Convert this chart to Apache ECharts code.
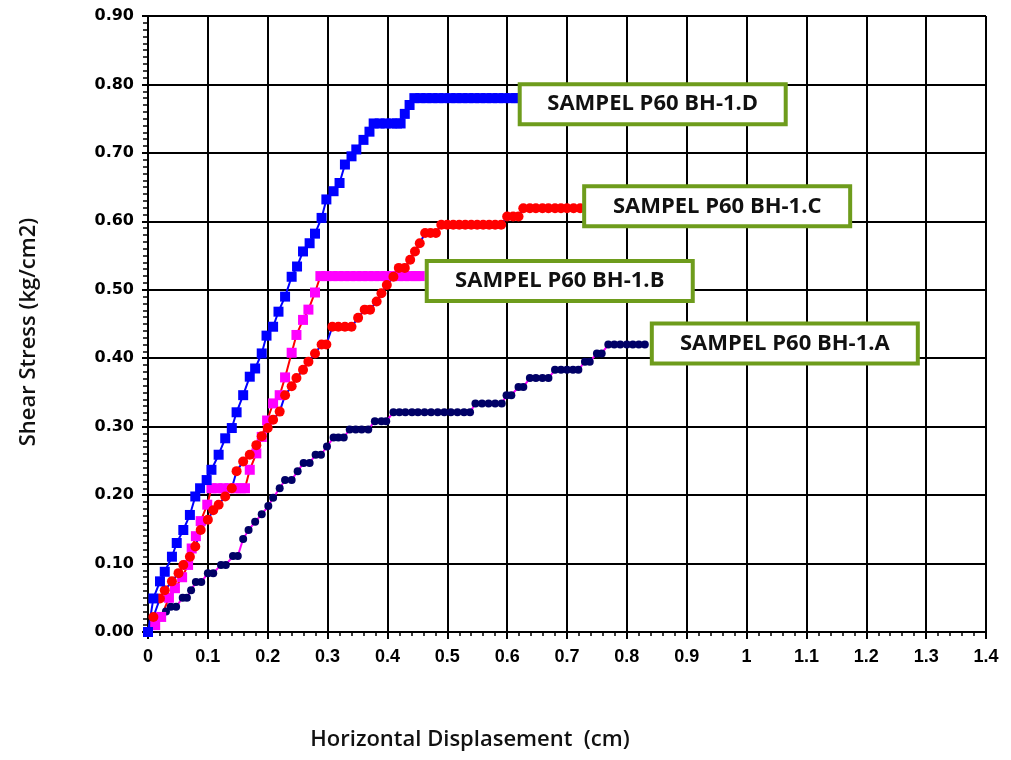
<!DOCTYPE html>
<html>
<head>
<meta charset="utf-8">
<title>Shear Stress vs Horizontal Displacement</title>
<script src="https://cdn.jsdelivr.net/npm/echarts@6/dist/echarts.min.js"></script>
<style>
  html, body { margin: 0; padding: 0; background: #ffffff; }
  #chart { width: 1011px; height: 760px; }
</style>
</head>
<body>
<div id="chart"></div>
<script>
// Direct shear test readings: [horizontal displacement (cm), shear stress (kg/cm2)]
const sampleNames = ['SAMPEL P60 BH-1.A', 'SAMPEL P60 BH-1.B', 'SAMPEL P60 BH-1.C', 'SAMPEL P60 BH-1.D'];

const sampleA = [
  [0, 0], [0.01, 0.012], [0.02, 0.022], [0.03, 0.03], [0.038, 0.037], [0.047, 0.037],
  [0.058, 0.05], [0.065, 0.05], [0.072, 0.061], [0.08, 0.073], [0.089, 0.073],
  [0.1, 0.086], [0.109, 0.086], [0.122, 0.098], [0.13, 0.098], [0.142, 0.111], [0.15, 0.111],
  [0.159, 0.136], [0.168, 0.149], [0.179, 0.161], [0.19, 0.172], [0.201, 0.184], [0.209, 0.196],
  [0.22, 0.21], [0.229, 0.222], [0.24, 0.222], [0.25, 0.235], [0.26, 0.247], [0.27, 0.247],
  [0.28, 0.259], [0.289, 0.259], [0.299, 0.271], [0.31, 0.284], [0.318, 0.284], [0.327, 0.284],
  [0.337, 0.296], [0.347, 0.296], [0.357, 0.296], [0.368, 0.296], [0.379, 0.308], [0.39, 0.308],
  [0.398, 0.308], [0.41, 0.321], [0.42, 0.321], [0.43, 0.321], [0.441, 0.321], [0.451, 0.321],
  [0.462, 0.321], [0.473, 0.321], [0.484, 0.321], [0.495, 0.321], [0.506, 0.321], [0.517, 0.321],
  [0.528, 0.321], [0.538, 0.321], [0.547, 0.334], [0.558, 0.334], [0.569, 0.334], [0.58, 0.334],
  [0.591, 0.334], [0.599, 0.346], [0.607, 0.346], [0.619, 0.358], [0.627, 0.358], [0.638, 0.371],
  [0.648, 0.371], [0.659, 0.371], [0.669, 0.371], [0.68, 0.383], [0.69, 0.383], [0.7, 0.383],
  [0.71, 0.383], [0.719, 0.383], [0.73, 0.395], [0.738, 0.395], [0.75, 0.407], [0.758, 0.407],
  [0.769, 0.42], [0.779, 0.42], [0.789, 0.42], [0.8, 0.42], [0.81, 0.42], [0.82, 0.42], [0.83, 0.42]
];

const sampleB = [
  [0, 0], [0.012, 0.01], [0.022, 0.022], [0.035, 0.05], [0.045, 0.064], [0.057, 0.08],
  [0.067, 0.098], [0.073, 0.122], [0.08, 0.14], [0.088, 0.162], [0.099, 0.186],
  [0.106, 0.21], [0.116, 0.21], [0.126, 0.21], [0.136, 0.21], [0.146, 0.21], [0.155, 0.21], [0.162, 0.21],
  [0.17, 0.237], [0.181, 0.261], [0.19, 0.285], [0.199, 0.309], [0.209, 0.334], [0.22, 0.346],
  [0.229, 0.372], [0.24, 0.408], [0.248, 0.434], [0.259, 0.456], [0.268, 0.471], [0.279, 0.496],
  [0.288, 0.52], [0.298, 0.52], [0.308, 0.52], [0.318, 0.52], [0.328, 0.52], [0.338, 0.52],
  [0.348, 0.52], [0.358, 0.52], [0.368, 0.52], [0.378, 0.52], [0.388, 0.52], [0.398, 0.52],
  [0.408, 0.52], [0.418, 0.52], [0.428, 0.52], [0.438, 0.52], [0.447, 0.52], [0.454, 0.52]
];

const sampleC = [
  [0, 0], [0.009, 0.022], [0.02, 0.049], [0.028, 0.061], [0.04, 0.074], [0.051, 0.086],
  [0.059, 0.098], [0.07, 0.11], [0.079, 0.125], [0.088, 0.149], [0.1, 0.164], [0.109, 0.178],
  [0.118, 0.186], [0.129, 0.198], [0.14, 0.21], [0.148, 0.235], [0.159, 0.249], [0.17, 0.259],
  [0.181, 0.273], [0.19, 0.286], [0.2, 0.298], [0.209, 0.31], [0.22, 0.322], [0.229, 0.346],
  [0.24, 0.359], [0.248, 0.371], [0.259, 0.383], [0.268, 0.395], [0.279, 0.407], [0.29, 0.42],
  [0.298, 0.42], [0.308, 0.446], [0.318, 0.446], [0.329, 0.446], [0.34, 0.446], [0.351, 0.459],
  [0.362, 0.471], [0.371, 0.471], [0.382, 0.483], [0.39, 0.495], [0.399, 0.507], [0.41, 0.519],
  [0.419, 0.532], [0.429, 0.532], [0.438, 0.544], [0.446, 0.556], [0.454, 0.568], [0.463, 0.583],
  [0.472, 0.583], [0.481, 0.583], [0.49, 0.595], [0.5, 0.595], [0.51, 0.595], [0.52, 0.595],
  [0.53, 0.595], [0.54, 0.595], [0.55, 0.595], [0.56, 0.595], [0.57, 0.595], [0.58, 0.595],
  [0.59, 0.595], [0.6, 0.607], [0.61, 0.607], [0.619, 0.607], [0.627, 0.619], [0.638, 0.619],
  [0.648, 0.619], [0.659, 0.619], [0.669, 0.619], [0.68, 0.619], [0.69, 0.619], [0.7, 0.619],
  [0.711, 0.619], [0.722, 0.619]
];

const sampleD = [
  [0, 0], [0.009, 0.049], [0.02, 0.074], [0.028, 0.088], [0.04, 0.11], [0.048, 0.13],
  [0.059, 0.149], [0.07, 0.171], [0.079, 0.198], [0.087, 0.21], [0.098, 0.222], [0.106, 0.237],
  [0.118, 0.259], [0.129, 0.283], [0.14, 0.298], [0.148, 0.321], [0.159, 0.346], [0.17, 0.373],
  [0.179, 0.385], [0.19, 0.407], [0.198, 0.433], [0.209, 0.446], [0.218, 0.468], [0.229, 0.49],
  [0.24, 0.519], [0.249, 0.534], [0.259, 0.556], [0.27, 0.568], [0.279, 0.582], [0.29, 0.605],
  [0.298, 0.632], [0.31, 0.644], [0.32, 0.656], [0.329, 0.683], [0.34, 0.695], [0.348, 0.705],
  [0.36, 0.719], [0.37, 0.731], [0.377, 0.743], [0.387, 0.743], [0.397, 0.743], [0.407, 0.743],
  [0.416, 0.743], [0.422, 0.743], [0.429, 0.757], [0.437, 0.77], [0.445, 0.78], [0.455, 0.78],
  [0.465, 0.78], [0.475, 0.78], [0.485, 0.78], [0.495, 0.78], [0.505, 0.78], [0.515, 0.78],
  [0.525, 0.78], [0.535, 0.78], [0.545, 0.78], [0.555, 0.78], [0.565, 0.78], [0.575, 0.78],
  [0.585, 0.78], [0.595, 0.78], [0.605, 0.78], [0.615, 0.78], [0.621, 0.78]
];

const xAxisTitle = 'Horizontal Displasement  (cm)';
const yAxisTitle = 'Shear Stress (kg/cm2)';

const yTickFont = '"DejaVu Sans", Verdana, sans-serif';
const xTickFont = '"Liberation Sans Narrow", "Liberation Sans", Arial, sans-serif';
const titleFont = '"Open Sans", "Noto Sans", sans-serif';

// Boxed caption drawn at the end of each curve
function withEndLabel(points, name, distance, offsetY) {
  return points.map((p, i) => {
    if (i !== points.length - 1) return p;
    return {
      value: p,
      label: {
        show: true,
        position: 'right',
        distance: distance,
        offset: [0, offsetY],
        formatter: '{t|' + name + '}',
        backgroundColor: '#ffffff',
        borderColor: '#6e9c1c',
        borderWidth: 4,
        padding: [5, 19, 5, 19],
        rich: {
          t: {
            fontFamily: titleFont,
            fontSize: 22,
            fontWeight: 'bold',
            color: '#111111',
            width: 224,
            height: 26,
            align: 'center',
            verticalAlign: 'middle'
          }
        }
      }
    };
  });
}

function curve(name, points, symbol, size, markerColor, lineColor, distance, offsetY) {
  return {
    name: name,
    type: 'line',
    data: withEndLabel(points, name, distance, offsetY),
    symbol: symbol,
    symbolSize: size,
    showAllSymbol: true,
    itemStyle: { color: markerColor, borderWidth: 0 },
    lineStyle: { color: lineColor, width: 2 },
    emphasis: { disabled: true },
    z: 3
  };
}

const chart = echarts.init(document.getElementById('chart'), null, { renderer: 'canvas' });

chart.setOption({
  animation: false,
  backgroundColor: '#ffffff',
  grid: { left: 148, right: 25, top: 16, bottom: 128 },
  xAxis: {
    type: 'value',
    min: 0,
    max: 1.4,
    interval: 0.1,
    name: xAxisTitle,
    nameLocation: 'middle',
    nameGap: 97,
    nameTextStyle: {
      fontFamily: titleFont, fontSize: 22, fontWeight: 600, color: '#111111',
      padding: [0, 194, 0, 0]
    },
    axisLine: { show: true, lineStyle: { color: '#000000', width: 2 } },
    axisTick: { show: true, inside: false, length: 7, lineStyle: { color: '#000000', width: 2 } },
    minorTick: { show: true, splitNumber: 5, length: 4, lineStyle: { color: '#000000', width: 1.5 } },
    axisLabel: {
      margin: 16, fontFamily: xTickFont, fontSize: 18, fontWeight: 'bold', color: '#000000',
      formatter: v => String(Math.round(v * 10) / 10)
    },
    splitLine: { show: true, lineStyle: { color: '#000000', width: 2 } }
  },
  yAxis: {
    type: 'value',
    min: 0,
    max: 0.9,
    interval: 0.1,
    name: yAxisTitle,
    nameLocation: 'middle',
    nameGap: 108,
    nameRotate: 90,
    nameTextStyle: {
      fontFamily: titleFont, fontSize: 22, fontWeight: 600, color: '#111111',
      padding: [0, 16, 0, 0]
    },
    axisLine: { show: true, lineStyle: { color: '#000000', width: 2 } },
    axisTick: { show: true, inside: false, length: 6, lineStyle: { color: '#000000', width: 2 } },
    minorTick: { show: true, splitNumber: 10, length: 5, lineStyle: { color: '#000000', width: 1.5 } },
    axisLabel: {
      margin: 14, fontFamily: yTickFont, fontSize: 16, fontWeight: 'bold', color: '#000000',
      formatter: v => v.toFixed(2)
    },
    splitLine: { show: true, lineStyle: { color: '#000000', width: 2 } }
  },
  series: [
    curve(sampleNames[0], sampleA, 'circle', 8, '#000066', '#ff00ff', 5, -1),
    curve(sampleNames[1], sampleB, 'rect', 10, '#ff00ff', '#ff0000', 4, 5),
    curve(sampleNames[2], sampleC, 'circle', 10, '#ff0000', '#0000ff', 1, -2),
    curve(sampleNames[3], sampleD, 'rect', 10, '#0000ff', '#0000ff', -3, 6)
  ]
});
</script>
</body>
</html>
